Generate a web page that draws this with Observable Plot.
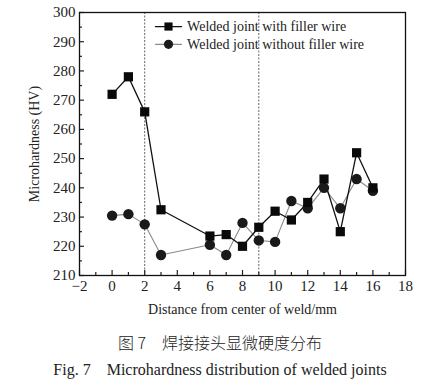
<!DOCTYPE html>
<html>
<head>
<meta charset="utf-8">
<script src="https://cdn.jsdelivr.net/npm/d3@7"></script>
<script src="https://cdn.jsdelivr.net/npm/@observablehq/plot@0.6"></script>
<style>
body { margin: 0; background: #fff; width: 445px; height: 392px; overflow: hidden; }
#chart { position: absolute; left: 0; top: 0; }
#chart text { font-family: "Liberation Serif", serif !important; }
.cap { position: absolute; left: 0; width: 440px; text-align: center; color: #222; white-space: pre; }
#cap1 { top: 330px; font-family: "Noto Sans CJK SC", serif; font-size: 16px; font-weight: 300; }
#cap2 { top: 361px; font-family: "Liberation Serif", serif; font-size: 16px; }
</style>
</head>
<body>
<div id="chart"></div>
<div class="cap" id="cap1">图 7　焊接接头显微硬度分布</div>
<div class="cap" id="cap2">Fig. 7    Microhardness distribution of welded joints</div>
<script>
const distance = [0, 1, 2, 3, 6, 7, 8, 9, 10, 11, 12, 13, 14, 15, 16];
const withFiller = [272, 278, 266, 232.5, 223.5, 224, 220, 226.5, 232, 229, 235, 243, 225, 252, 240];
const withoutFiller = [230.5, 231, 227.5, 217, 220.5, 217, 228, 222, 221.5, 235.5, 233, 240, 233, 243, 239];
const seriesNames = ["Welded joint with filler wire", "Welded joint without filler wire"];
const zoneBoundaries = [2, 9];
const xTicks = [-2, 0, 2, 4, 6, 8, 10, 12, 14, 16, 18];
const xMinor = d3.range(-1, 18, 2);
const yTicks = [210, 220, 230, 240, 250, 260, 270, 280, 290, 300];
const yMinor = d3.range(215, 300, 10);

const A = distance.map((x, i) => ({x, y: withFiller[i]}));
const B = distance.map((x, i) => ({x, y: withoutFiller[i]}));

const W = 445, H = 320, mT = 12, mB = 45, mL = 79, mR = 40;
const ph = H - mT - mB;
const font = "'Liberation Serif', serif";

// legend anchors in data coordinates
const legX1 = 2.66, legX2 = 4.26, legXm = 3.46, legXt = 4.6;
const legY = [295.2, 289.1];

const chart = Plot.plot({
  width: W, height: H,
  marginTop: mT, marginBottom: mB, marginLeft: mL, marginRight: mR,
  style: {fontFamily: font, fontSize: "14px", color: "#222", background: "#fff"},
  x: {domain: [-2, 18]},
  y: {domain: [210, 300]},
  marks: [
    Plot.ruleX(zoneBoundaries, {stroke: "#555", strokeWidth: 0.9, strokeDasharray: "2,1.5"}),
    Plot.tickX(xTicks, {x: d => d, stroke: "#222", strokeWidth: 1.2, insetTop: ph - 5}),
    Plot.tickX(xMinor, {x: d => d, stroke: "#222", strokeWidth: 1.2, insetTop: ph - 3}),
    Plot.tickY(yTicks, {y: d => d, stroke: "#222", strokeWidth: 1.2, insetRight: (W - mL - mR) - 5}),
    Plot.tickY(yMinor, {y: d => d, stroke: "#222", strokeWidth: 1.2, insetRight: (W - mL - mR) - 3}),
    Plot.line(B, {x: "x", y: "y", stroke: "#8a8a8a", strokeWidth: 1.1}),
    Plot.line(A, {x: "x", y: "y", stroke: "#111", strokeWidth: 1.3}),
    Plot.dot(B, {x: "x", y: "y", r: 5.2, fill: "#1a1a1a", stroke: "none"}),
    Plot.dot(A, {x: "x", y: "y", symbol: "square", r: 5.2, fill: "#0a0a0a", stroke: "none"}),
    // legend
    Plot.line([{x: legX1, y: legY[0]}, {x: legX2, y: legY[0]}], {x: "x", y: "y", stroke: "#111", strokeWidth: 1.3}),
    Plot.line([{x: legX1, y: legY[1]}, {x: legX2, y: legY[1]}], {x: "x", y: "y", stroke: "#8a8a8a", strokeWidth: 1.1}),
    Plot.dot([{x: legXm, y: legY[0]}], {x: "x", y: "y", symbol: "square", r: 4.6, fill: "#0a0a0a"}),
    Plot.dot([{x: legXm, y: legY[1]}], {x: "x", y: "y", r: 4.6, fill: "#1a1a1a"}),
    Plot.text(seriesNames, {x: legXt, y: (d, i) => legY[i], text: d => d, textAnchor: "start", fontSize: 14, fontFamily: font, fill: "#222"}),
    Plot.frame({stroke: "#111", strokeWidth: 1.3}),
    Plot.axisX({ticks: xTicks, tickSize: 0, tickPadding: 5, fontSize: 15, fontFamily: font, tickFormat: d => d < 0 ? "\u2212" + Math.abs(d) : String(d),
      label: null}),
    Plot.axisX({ticks: [], tickSize: 0, fontSize: 14, fontFamily: font,
      label: "Distance from center of weld/mm", labelAnchor: "center", labelOffset: 38, labelArrow: "none"}),
    Plot.axisY({ticks: yTicks, tickSize: 0, tickPadding: 4, fontSize: 15, fontFamily: font, label: null}),
    Plot.axisY({ticks: [], tickSize: 0, fontSize: 14, fontFamily: font,
      label: "Microhardness (HV)", labelAnchor: "center", labelOffset: 50, labelArrow: "none"})
  ]
});
document.getElementById("chart").appendChild(chart);
</script>
</body>
</html>
